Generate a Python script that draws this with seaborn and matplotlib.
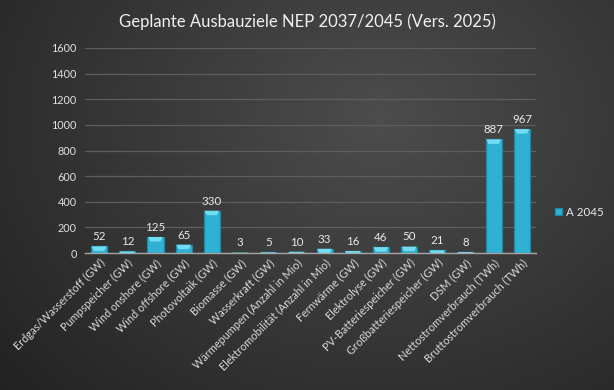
import numpy as np
import pandas as pd
import matplotlib
matplotlib.use("Agg")
import matplotlib.pyplot as plt
from matplotlib.patches import Polygon
import seaborn as sns

categories = ["Erdgas/Wasserstoff (GW)", "Pumpspeicher (GW)", "Wind onshore (GW)",
              "Wind offshore (GW)", "Photovoltaik (GW)", "Biomasse (GW)", "Wasserkraft (GW)",
              "Wärmepumpen (Anzahl in Mio)", "Elektromobilität (Anzahl in Mio)", "Fernwärme (GW)",
              "Elektrolyse (GW)", "PV-Batteriespeicher (GW)", "Großbatteriespeicher (GW)",
              "DSM (GW)", "Nettostromverbrauch (TWh)", "Bruttostromverbrauch (TWh)"]
values = [52, 12, 125, 65, 330, 3, 5, 10, 33, 16, 46, 50, 21, 8, 887, 967]
series_name = "A 2045"
yticks = [0, 200, 400, 600, 800, 1000, 1200, 1400, 1600]
title = "Geplante Ausbauziele NEP 2037/2045 (Vers. 2025)"

sns.set_theme(style="dark")
plt.rcParams['font.family'] = ['Lato', 'DejaVu Sans']

fig = plt.figure(figsize=(6.14, 3.90), dpi=100)

# background gradient
bg = fig.add_axes([0, 0, 1, 1], zorder=0)
yy, xx = np.mgrid[0:390, 0:614]
d = np.sqrt(((xx - 380) / 520.0) ** 2 + ((yy - 120) / 420.0) ** 2)
g = np.clip(0.30 - 0.17 * d, 0.12, 0.32)
bg.imshow(np.dstack([g, g, g]), aspect='auto', extent=[0, 1, 0, 1], origin='upper')
bg.axis('off')

ax = fig.add_axes([85 / 614, 1 - 253 / 390, (536 - 85) / 614, (253 - 48) / 390], zorder=1)
ax.patch.set_alpha(0)

df = pd.DataFrame({"cat": categories, "val": values, "series": series_name})
sns.barplot(data=df, x="cat", y="val", hue="series", ax=ax, width=0.57, saturation=1,
            palette=["#2fb1d4"], edgecolor="#1d86a3", linewidth=0.9, legend=True)

ax.set_ylim(0, 1600)
ax.set_xlim(-0.5, len(categories) - 0.5)
ax.set_yticks(yticks)
ax.set_yticklabels([str(t) for t in yticks], color="#e0e0e0", fontsize=7.8)
ax.yaxis.grid(True, color="#5e5e5e", linewidth=0.9)
ax.set_axisbelow(True)
ax.xaxis.grid(False)
for s in ["top", "right", "left"]:
    ax.spines[s].set_visible(False)
ax.spines["bottom"].set_color("#a6a6a6")
ax.spines["bottom"].set_linewidth(1.0)
ax.tick_params(axis='both', length=0, pad=6)
ax.set_xticks(range(len(categories)))
ax.set_xticklabels(categories, rotation=45, ha='right', rotation_mode='anchor',
                   color="#d9d9d9", fontsize=7.8)
ax.tick_params(axis='x', pad=3)
ax.set_xlabel("")
ax.set_ylabel("")

# bevel on top of each bar (derived from bar geometry)
units_per_px = 1600 / 205.0
for p in ax.patches:
    x0, w, h = p.get_x(), p.get_width(), p.get_height()
    if w <= 0 or h <= 0:
        continue
    bh = min(4.5 * units_per_px, h)
    inset = min(w * 0.18, w * 0.18 * bh / (4.5 * units_per_px))
    poly = Polygon([[x0 + 0.04 * w, h], [x0 + 0.96 * w, h],
                    [x0 + w - inset, h - bh], [x0 + inset, h - bh]],
                   closed=True, facecolor="#72dcf3", edgecolor="none", zorder=p.get_zorder() + 0.1)
    ax.add_patch(poly)

for c in ax.containers:
    ax.bar_label(c, labels=[str(v) for v in values], padding=3, color="#e8e8e8", fontsize=8.3)

leg = ax.legend(loc='center left', bbox_to_anchor=(1.02, 0.2), frameon=False,
                fontsize=8.3, handlelength=0.6, handleheight=0.6, handletextpad=0.3)
for t in leg.get_texts():
    t.set_color("#e8e8e8")

fig.text(0.5, 1 - 22 / 390, title, ha='center', va='center', color="#f0f0f0",
         fontsize=12)

fig.savefig("out.png", dpi=100)
